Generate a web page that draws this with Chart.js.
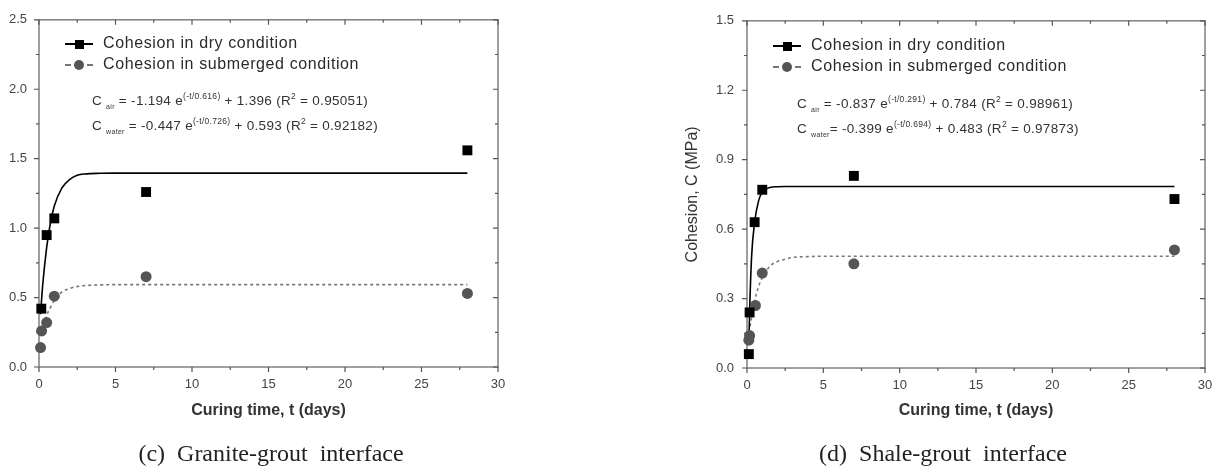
<!DOCTYPE html>
<html>
<head>
<meta charset="utf-8">
<script src="https://cdn.jsdelivr.net/npm/chart.js@4/dist/chart.umd.min.js"></script>
<style>
  body { margin:0; background:#fff; width:1230px; height:469px; position:relative; overflow:hidden;
         font-family:'Liberation Sans', Arial, sans-serif; color:#333; }
  .box { position:absolute; top:0; height:469px; }
  .leg { position:absolute; font-size:16px; letter-spacing:0.6px; line-height:21px; color:#2a2a2a; }
  .row { white-space:nowrap; }
  .sym { position:relative; display:inline-block; width:28px; height:10px; margin-right:10px; vertical-align:middle; }
  .sym .ln { position:absolute; left:0; top:4px; width:28px; border-top:2px solid #000; }
  .sym .dl { position:absolute; left:0; top:4px; width:28px; border-top:2px dashed #777; }
  .sym .sq { position:absolute; left:10px; top:1px; width:9px; height:9px; background:#000; }
  .sym .ci { position:absolute; left:9px; top:0; width:10px; height:10px; border-radius:50%; background:#555; }
  .eq { position:absolute; font-size:13.5px; letter-spacing:0.3px; color:#333; white-space:nowrap; }
  .eq div { height:25px; line-height:25px; }
  .eq sub { font-size:7px; position:relative; top:4px; vertical-align:baseline; line-height:0; }
  .eq sup { font-size:8.5px; position:relative; top:-6px; vertical-align:baseline; line-height:0; }
  .cap { position:absolute; top:440px; font-family:'Liberation Serif', 'Times New Roman', serif; font-size:24px;
         color:#222; white-space:pre; transform:translateX(-50%); }
</style>
</head>
<body>
<div class="box" style="left:0;width:540px"><canvas id="chartC"></canvas></div>
<div class="box" style="left:680px;width:550px"><canvas id="chartD"></canvas></div>

<div class="leg" style="left:65px;top:32px">
  <div class="row"><span class="sym"><span class="ln"></span><span class="sq"></span></span>Cohesion in dry condition</div>
  <div class="row"><span class="sym"><span class="dl"></span><span class="ci"></span></span>Cohesion in submerged condition</div>
</div>
<div class="eq" style="left:92px;top:88px">
  <div>C <sub>air</sub> = -1.194 e<sup>(-t/0.616)</sup> + 1.396 (R<sup>2</sup> = 0.95051)</div>
  <div>C <sub>water</sub> = -0.447 e<sup>(-t/0.726)</sup> + 0.593 (R<sup>2</sup> = 0.92182)</div>
</div>

<div class="leg" style="left:773px;top:34px">
  <div class="row"><span class="sym"><span class="ln"></span><span class="sq"></span></span>Cohesion in dry condition</div>
  <div class="row"><span class="sym"><span class="dl"></span><span class="ci"></span></span>Cohesion in submerged condition</div>
</div>
<div class="eq" style="left:797px;top:91px">
  <div>C <sub>air</sub> = -0.837 e<sup>(-t/0.291)</sup> + 0.784 (R<sup>2</sup> = 0.98961)</div>
  <div>C <sub>water</sub>= -0.399 e<sup>(-t/0.694)</sup> + 0.483 (R<sup>2</sup> = 0.97873)</div>
</div>

<div class="cap" style="left:271px">(c)  Granite-grout  interface</div>
<div class="cap" style="left:943px">(d)  Shale-grout  interface</div>

<script>
Chart.defaults.font.family = "'Liberation Sans', Arial, sans-serif";
Chart.defaults.color = '#444';

// tick labels
var xTicks = [0, 5, 10, 15, 20, 25, 30];
var yTicksC = [0, 0.5, 1.0, 1.5, 2.0, 2.5];
var yTicksD = [0, 0.3, 0.6, 0.9, 1.2, 1.5];

// (c) granite-grout: measured points
var dryTimeC = [0.15, 0.5, 1, 7, 28];
var dryCohC  = [0.42, 0.95, 1.07, 1.26, 1.56];
var subTimeC = [0.1, 0.17, 0.5, 1, 7, 28];
var subCohC  = [0.14, 0.26, 0.32, 0.51, 0.65, 0.53];
// (c) fitted curves
var dryFitTimeC = [0.1, 0.25, 0.5, 0.75, 1, 1.5, 2, 2.5, 3, 4, 5, 28];
var dryFitCohC  = [0.38, 0.60, 0.86, 1.04, 1.16, 1.29, 1.35, 1.38, 1.39, 1.395, 1.396, 1.396];
var subFitTimeC = [0.3, 0.5, 0.75, 1, 1.5, 2, 2.5, 3, 4, 5, 28];
var subFitCohC  = [0.30, 0.37, 0.43, 0.48, 0.54, 0.565, 0.58, 0.586, 0.591, 0.593, 0.593];

// (d) shale-grout: measured points
var dryTimeD = [0.12, 0.17, 0.5, 1, 7, 28];
var dryCohD  = [0.06, 0.24, 0.63, 0.77, 0.83, 0.73];
var subTimeD = [0.12, 0.17, 0.55, 1, 7, 28];
var subCohD  = [0.12, 0.14, 0.27, 0.41, 0.45, 0.51];
// (d) fitted curves
var dryFitTimeD = [0.12, 0.17, 0.3, 0.5, 0.75, 1, 1.5, 2, 2.5, 28];
var dryFitCohD  = [0.10, 0.24, 0.48, 0.63, 0.72, 0.76, 0.78, 0.783, 0.784, 0.784];
var subFitTimeD = [0.2, 0.5, 0.75, 1, 1.5, 2, 2.5, 3, 4, 5, 28];
var subFitCohD  = [0.18, 0.29, 0.35, 0.39, 0.44, 0.46, 0.47, 0.478, 0.481, 0.483, 0.483];

function pts(xs, ys) {
  return xs.map(function (t, i) { return {x: t, y: ys[i]}; });
}

var framePlugin = {
  id: 'frame',
  beforeDatasetsDraw: function (chart, args, opts) {
    var ctx = chart.ctx, a = chart.chartArea, x = chart.scales.x, y = chart.scales.y;
    ctx.save();
    ctx.strokeStyle = '#808080';
    ctx.lineWidth = 1.5;
    ctx.strokeRect(a.left, a.top, a.right - a.left, a.bottom - a.top);
    ctx.strokeStyle = '#555';
    ctx.lineWidth = 1.2;
    ctx.beginPath();
    function mark(arr, fn) {
      arr.forEach(function (v, i) {
        fn(v, 5);
        if (i < arr.length - 1) fn((v + arr[i + 1]) / 2, 3);
      });
    }
    mark(opts.xTicks, function (v, len) {
      var px = x.getPixelForValue(v);
      ctx.moveTo(px, a.bottom); ctx.lineTo(px, a.bottom + len);
      ctx.moveTo(px, a.top); ctx.lineTo(px, a.top + len);
    });
    mark(opts.yTicks, function (v, len) {
      var py = y.getPixelForValue(v);
      ctx.moveTo(a.left - len, py); ctx.lineTo(a.left, py);
      ctx.moveTo(a.right, py); ctx.lineTo(a.right - len, py);
    });
    ctx.stroke();
    ctx.restore();
  }
};

function makeChart(id, d) {
  new Chart(document.getElementById(id), {
    type: 'scatter',
    data: {
      datasets: [{
        label: 'Cohesion in dry condition',
        data: pts(d.dryT, d.dryC),
        pointStyle: 'rect', pointRadius: 7, pointHoverRadius: 7,
        backgroundColor: '#000', borderColor: '#000', borderWidth: 0,
        clip: false
      }, {
        label: 'Cohesion in submerged condition',
        data: pts(d.subT, d.subC),
        pointStyle: 'circle', pointRadius: 5.5, pointHoverRadius: 5.5,
        backgroundColor: '#555', borderColor: '#555', borderWidth: 0,
        clip: false
      }, {
        label: 'dry fit',
        data: pts(d.dryFitT, d.dryFitC),
        showLine: true, pointRadius: 0, borderColor: '#000', borderWidth: 1.6,
        cubicInterpolationMode: 'monotone', clip: false
      }, {
        label: 'submerged fit',
        data: pts(d.subFitT, d.subFitC),
        showLine: true, pointRadius: 0, borderColor: '#777', borderWidth: 1.6,
        borderDash: [3, 3], cubicInterpolationMode: 'monotone', clip: false
      }]
    },
    options: {
      responsive: true,
      maintainAspectRatio: false,
      animation: false,
      events: [],
      layout: { padding: d.pad },
      plugins: {
        legend: { display: false },
        tooltip: { enabled: false },
        frame: { xTicks: xTicks, yTicks: d.yTicks }
      },
      scales: {
        x: {
          type: 'linear', min: 0, max: 30,
          afterBuildTicks: function (s) { s.ticks = xTicks.map(function (v) { return {value: v}; }); },
          afterFit: function (s) { s.height = d.xH; },
          grid: { display: false, drawTicks: false },
          border: { display: false },
          ticks: { padding: 10, font: { size: 13 }, color: '#444', callback: function (v) { return String(v); } },
          title: { display: true, text: 'Curing time, t (days)', color: '#333', padding: 0,
                   font: { size: 16, weight: 'bold' } }
        },
        y: {
          type: 'linear', min: 0, max: d.yTicks[d.yTicks.length - 1],
          afterBuildTicks: function (s) { s.ticks = d.yTicks.map(function (v) { return {value: v}; }); },
          afterFit: function (s) { s.width = d.yW; },
          grid: { display: false, drawTicks: false },
          border: { display: false },
          ticks: { padding: d.yPad, font: { size: 13 }, color: '#444', callback: function (v) { return v.toFixed(1); } },
          title: { display: !!d.yTitle, text: d.yTitle || '', color: '#333', padding: 0, font: { size: 16 } }
        }
      }
    },
    plugins: [framePlugin]
  });
}

makeChart('chartC', {
  dryT: dryTimeC, dryC: dryCohC, subT: subTimeC, subC: subCohC,
  dryFitT: dryFitTimeC, dryFitC: dryFitCohC, subFitT: subFitTimeC, subFitC: subFitCohC,
  yTicks: yTicksC, pad: { left: 0, top: 17, right: 42, bottom: 49 }, xH: 53, yW: 39, yPad: 12
});

makeChart('chartD', {
  dryT: dryTimeD, dryC: dryCohD, subT: subTimeD, subC: subCohD,
  dryFitT: dryFitTimeD, dryFitC: dryFitCohD, subFitT: subFitTimeD, subFitC: subFitCohD,
  yTicks: yTicksD, pad: { left: 3, top: 19, right: 25, bottom: 49 }, xH: 52, yW: 64, yPad: 13,
  yTitle: 'Cohesion, C (MPa)'
});
</script>
</body>
</html>
